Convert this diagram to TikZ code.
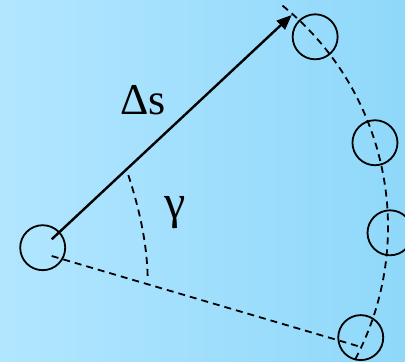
\documentclass[tikz,border=0pt]{standalone}
\usepackage{fontspec}
\setmainfont{Liberation Serif}
\newfontfamily\labelfont{Liberation Serif}
\usetikzlibrary{arrows.meta,calc}
\definecolor{bgleft}{RGB}{178,230,255}
\definecolor{bgright}{RGB}{143,216,250}
\tikzset{
  ball/.style={draw,circle,line width=1.8pt,minimum size=45pt,inner sep=0pt},
  guide/.style={line width=1.8pt,dash pattern=on 7pt off 5pt},
  bigtext/.style={font=\labelfont\fontsize{44}{52}\selectfont,inner sep=0pt,anchor=base west},
}
\begin{document}
\begin{tikzpicture}[x=1pt,y=1pt,>={Triangle[length=15pt,width=12pt]}]
  \shade[left color=bgleft,right color=bgright] (0,0) rectangle (405,362);
  \useasboundingbox (0,0) rectangle (405,362);
  % start circle and the centre of the dashed arc
  \node[ball] (p0) at (42.7,114.3) {};
  \coordinate (o) at (103.4,135.2);
  % circles sitting on the arc
  \foreach \a/\r/\n in {41.9/284.5/p1,17.2/284.3/p2,-1.2/286.7/p3,-23.3/280.2/p4}
    {\node[ball] (\n) at ($(o)+(\a:\r)$) {};}
  \draw[guide] ($(o)+(51:284.6)$) arc[start angle=51,end angle=-28,radius=284.6];
  % step vector and the reference line
  \coordinate (s0) at (51.7,122.7);
  \coordinate (s1) at (291.7,347);
  \coordinate (r0) at (51.7,106);
  \coordinate (r1) at (361,15);
  \draw[->,line width=2.4pt] (s0) -- (s1);
  \draw[guide] (r0) -- (r1);
  % angle between them
  \draw[guide] (128.3,187) .. controls (138,157) and (147,122) .. (147.7,83.7);
  \node[bigtext] (ds) at (120,247) {Δs};
  \node[bigtext,font=\labelfont\fontsize{48}{56}\selectfont] (gam) at (164,143) {γ};
\end{tikzpicture}
\end{document}
